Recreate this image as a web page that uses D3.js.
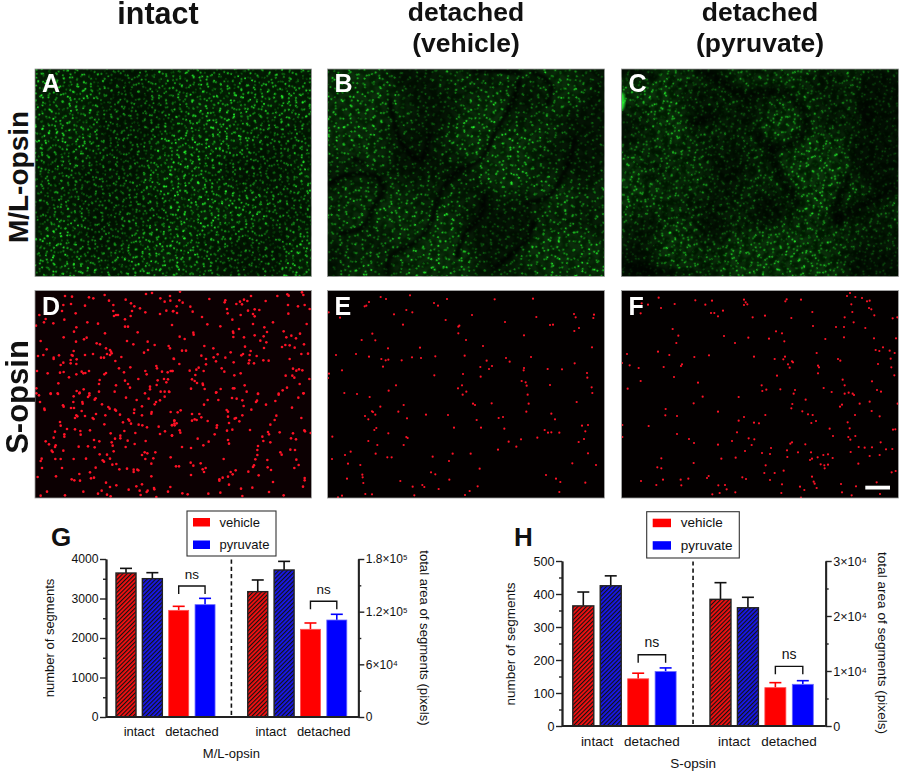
<!DOCTYPE html>
<html><head><meta charset="utf-8">
<script src="https://cdn.jsdelivr.net/npm/d3@7"></script>
<style>html,body{margin:0;background:#fff}svg{display:block}text{font-family:"Liberation Sans",Arial,sans-serif;fill:#111}</style>
</head><body><svg id="c" width="900" height="774"></svg>
<script>
// ---------- bar chart values ----------
const barCategories = ["intact vehicle","intact pyruvate","detached vehicle","detached pyruvate"];
const gSegments   = [3645,3502,2700,2844];
const gSegmentsHi = [3763,3654,2802,3004];
const gArea       = [142800,167500,99900,110500];
const gAreaHi     = [156100,177300,107100,117000];
const hSegments   = [364,425,143,165];
const hSegmentsHi = [406,455,160,176];
const hArea       = [23030,21500,6970,7580];
const hAreaHi     = [26060,23400,7880,8240];
const legendLabels = ["vehicle","pyruvate"];
const groupLabels  = ["intact","detached"];
const colTitles = [["intact"],["detached","(vehicle)"],["detached","(pyruvate)"]];
const rowTitles = ["M/L-opsin","S-opsin"];
const panelLetters = ["A","B","C","D","E","F"];

const dotsD1=[[105,33],[126,35],[177,37],[190,40],[224,30],[237,47],[287,44],[348,27],[366,24],[391,40],[404,50],[420,33],[421,47],[303,55],[313,64],[330,70],[346,82],[409,77],[430,78],[390,87],[123,57],[165,62],[100,60],[96,78],[137,85],[28,90],[47,102],[42,112],[103,104],[18,122],[70,115],[250,60],[250,78],[252,93],[258,90],[264,90],[285,103],[306,78],[302,93],[172,112],[204,116],[285,125],[294,125],[139,127],[132,140],[323,142],[225,145],[101,157],[162,163],[170,158],[138,170],[32,168],[200,175],[210,178],[291,168],[310,178],[353,170],[374,180],[416,183],[420,190],[50,193],[131,198],[125,210],[128,212],[87,211],[40,210],[24,213],[71,218],[71,222],[165,210],[189,207],[228,190],[240,195],[243,200],[245,205],[231,207],[240,210],[354,195],[342,203],[274,216],[213,218],[222,218],[256,228],[122,225],[122,235],[140,223],[139,237],[100,233],[92,240],[267,250],[301,247],[379,243],[381,250],[432,222],[21,258],[53,265],[90,263],[101,261],[117,277],[155,260],[160,265],[166,264],[177,258],[139,268],[223,268],[228,264],[282,262],[346,258],[350,268],[396,260],[413,262],[422,258],[428,258],[325,282],[383,286],[402,282],[414,283],[409,292],[85,295],[209,285],[207,297],[285,287],[294,297],[258,301],[380,300],[360,305],[360,313],[19,310],[161,313],[300,308],[140,318],[207,320],[254,320],[392,320],[404,320],[417,320],[62,325],[83,325],[148,325],[178,325],[19,325],[345,325]];
const dotsD2=[[24,20],[22,46],[32,53],[14,64],[55,65],[3,79],[15,84],[62,80],[112,42],[160,46],[158,52],[193,57],[204,50],[210,58],[216,44],[226,48],[237,33],[281,48],[316,33],[346,28],[350,32],[348,60],[378,64],[398,60],[413,72],[390,22],[394,30],[165,72],[167,85],[90,96],[181,104],[206,90],[228,77],[243,87],[248,94],[248,73],[262,75],[303,112],[349,86],[404,117],[0,120],[106,118],[243,117],[145,124],[277,127],[201,132],[183,140],[184,144],[285,141],[64,143],[65,149],[335,139],[23,155],[38,162],[184,156],[216,157],[248,151],[265,167],[275,154],[343,157],[358,152],[372,160],[384,146],[283,172],[97,183],[124,190],[219,185],[236,198],[276,189],[330,186],[340,180],[353,181],[368,188],[396,178],[30,197],[42,197],[88,212],[125,217],[137,208],[160,218],[176,202],[208,211],[213,207],[233,210],[254,213],[388,207],[408,206],[5,221],[102,222],[132,229],[185,232],[232,226],[230,235],[246,235],[274,226],[290,227],[353,222],[22,237],[102,238],[53,257],[73,254],[80,248],[149,250],[157,260],[0,258],[95,258],[206,265],[187,271],[70,270],[341,272],[361,272],[367,278],[363,251],[373,257],[381,253],[391,256],[412,282],[60,283],[68,288],[75,294],[92,296],[93,300],[383,297],[218,301],[57,311],[98,312],[146,312],[183,310],[187,310],[345,308],[133,322],[224,320],[258,326],[320,326],[332,316],[395,325]];
const dotsD3=[[27,10],[62,6],[84,6],[131,13],[149,2],[178,10],[174,15],[197,19],[194,23],[288,17],[320,24],[356,20],[390,25],[404,14],[418,0],[378,30],[374,37],[30,30],[130,30],[157,30],[158,35],[216,37],[99,40],[101,44],[123,48],[132,48],[235,45],[239,50],[255,53],[258,56],[336,43],[313,53],[312,63],[43,50],[44,54],[155,57],[139,70],[142,73],[165,72],[198,66],[226,70],[188,78],[191,81],[270,68],[336,70],[365,60],[364,65],[422,60],[433,87],[433,95],[426,99],[135,78],[90,90],[92,101],[223,97],[279,91],[295,82],[298,86],[303,95],[326,98],[337,100],[351,106],[386,104],[111,111],[135,112],[180,115],[283,117],[75,119],[151,117],[152,128],[103,127],[103,134],[71,137],[242,124],[255,140],[271,131],[271,139],[316,123],[390,126],[405,118],[426,130],[47,148],[57,157],[77,160],[75,165],[146,164],[174,163],[192,144],[208,148],[245,151],[248,161],[293,146],[314,156],[347,147],[194,166],[287,165],[65,176],[68,180],[100,176],[209,187],[231,188],[251,178],[344,181],[352,184],[376,181],[336,189],[35,200],[32,207],[76,201],[92,201],[131,201],[168,200],[240,200],[346,201],[370,199],[422,196],[218,205],[222,209],[247,218],[259,216],[364,215],[36,228],[96,228],[197,227],[268,232],[291,230],[311,233],[311,240],[322,233],[325,235],[180,241],[148,246],[78,253],[23,255],[183,259],[192,257],[125,262],[133,265],[150,266],[364,253],[228,272],[259,280],[240,285],[336,277],[319,283],[372,288],[373,292],[353,296],[350,300],[329,296],[296,293],[215,296],[204,305],[414,299],[51,299],[160,299],[231,308],[242,313],[32,311],[105,310],[332,309],[379,315],[421,285]];
const dotsD4=[[132,2],[258,6],[320,8],[394,4],[379,17],[107,24],[139,24],[180,18],[194,20],[211,25],[255,26],[252,30],[310,27],[96,38],[215,42],[282,38],[238,53],[360,47],[164,54],[168,59],[26,55],[17,61],[60,66],[82,66],[168,74],[211,70],[313,71],[88,76],[388,78],[7,85],[60,86],[68,82],[74,84],[107,87],[171,93],[188,80],[192,78],[202,88],[308,84],[0,100],[8,100],[14,94],[135,100],[134,107],[295,98],[23,115],[25,122],[165,116],[181,113],[234,114],[288,120],[323,121],[397,115],[399,118],[416,123],[128,127],[291,127],[0,131],[363,124],[271,134],[77,140],[168,144],[274,147],[357,139],[372,142],[110,149],[171,155],[295,151],[94,160],[258,162],[30,165],[57,168],[256,174],[355,173],[369,174],[325,181],[256,189],[329,188],[155,201],[250,202],[286,204],[373,203],[56,212],[64,221],[86,214],[12,223],[21,223],[246,220],[243,225],[380,219],[287,226],[297,234],[367,228],[92,232],[101,228],[96,240],[191,235],[176,240],[182,247],[229,239],[57,249],[260,250],[152,257],[142,262],[142,266],[168,254],[398,258],[398,265],[303,270],[171,278],[393,284],[241,287],[207,290],[291,300],[31,304],[47,307],[109,305],[145,302],[211,312],[335,310]];
const dotsE=[[176,36],[192,42],[264,31],[141,51],[133,62],[128,64],[20,82],[54,98],[216,88],[253,75],[271,82],[336,54],[348,62],[375,42],[518,43],[633,41],[450,90],[371,105],[412,122],[409,125],[243,119],[549,111],[643,96],[756,87],[761,97],[816,89],[814,99],[684,120],[693,119],[771,129],[757,138],[409,145],[606,151],[151,146],[119,165],[160,166],[432,165],[483,183],[198,190],[294,188],[810,187],[42,210],[102,207],[141,215],[178,222],[191,226],[199,224],[239,226],[270,217],[297,219],[340,214],[428,212],[552,219],[563,230],[627,216],[494,227],[183,245],[510,243],[475,246],[501,252],[606,249],[605,256],[758,235],[720,253],[677,252],[60,256],[21,266],[18,279],[337,271],[423,267],[476,275],[795,264],[796,278],[599,288],[611,292],[222,301],[420,301],[408,310],[614,302],[684,300],[809,307],[811,324],[200,317],[433,320],[422,329],[67,324],[105,327],[143,336],[617,329],[245,360],[453,356],[459,360],[509,355],[620,356],[764,351],[175,365],[150,379],[153,381],[229,380],[312,389],[378,390],[613,380],[688,386],[129,393],[160,389],[139,403],[255,400],[530,399],[543,396],[699,403],[464,405],[163,429],[157,435],[199,445],[396,428],[477,428],[547,431],[668,435],[678,443],[688,442],[712,443],[780,422],[798,420],[790,439],[31,455],[253,456],[257,459],[139,468],[560,470],[597,463],[646,458],[770,471],[786,462],[166,480],[245,480],[583,485],[528,494],[86,500],[69,510],[161,506],[30,522],[196,517],[209,517],[332,515],[392,506],[446,506],[381,528],[798,505],[78,536],[115,540],[751,535],[822,540],[473,551],[327,562],[340,568],[121,569],[122,577],[75,581],[235,588],[382,584],[672,570],[702,581],[715,591],[790,593],[124,594],[272,605],[301,600],[307,606],[350,612],[467,604],[443,618],[712,621],[130,627],[150,628],[60,632],[48,637],[277,631],[429,630]];
const dotsF=[[140,38],[89,55],[108,59],[147,69],[188,57],[250,46],[280,59],[300,47],[396,44],[401,52],[396,60],[406,58],[520,49],[524,43],[567,44],[714,24],[705,33],[730,36],[750,39],[765,49],[773,47],[718,58],[771,69],[778,73],[86,85],[333,77],[297,84],[307,84],[318,94],[459,92],[422,97],[538,99],[601,81],[721,81],[698,97],[787,91],[856,97],[842,100],[725,112],[603,123],[672,126],[696,126],[182,132],[199,152],[336,153],[409,158],[471,161],[492,139],[510,145],[760,129],[640,162],[696,157],[786,160],[852,160],[193,174],[369,174],[517,169],[813,187],[791,195],[802,198],[833,197],[848,204],[45,207],[138,200],[172,210],[247,216],[291,211],[426,215],[614,204],[519,215],[514,223],[488,222],[678,222],[685,227],[540,229],[543,232],[528,238],[533,248],[30,234],[53,241],[80,249],[155,246],[207,243],[210,238],[618,242],[621,247],[618,265],[836,221],[798,237],[838,247],[847,271],[495,272],[186,276],[86,288],[258,293],[692,284],[780,289],[698,301],[47,311],[449,301],[451,318],[463,314],[505,313],[549,315],[545,326],[635,309],[659,321],[795,315],[807,320],[698,326],[710,323],[722,326],[726,330],[272,335],[380,336],[581,344],[245,355],[541,357],[538,370],[690,359],[684,365],[743,356],[773,350],[857,356],[161,372],[160,391],[318,380],[571,379],[588,388],[602,390],[460,390],[779,378],[729,390],[803,394],[195,393],[396,396],[380,407],[426,413],[441,415],[598,414],[612,408],[707,412],[110,423],[31,420],[653,431],[713,430],[850,433],[843,434],[375,442],[195,447],[31,456],[231,462],[246,474],[360,468],[410,460],[427,463],[663,453],[709,456],[715,464],[730,453],[806,472],[540,472],[535,476],[318,479],[419,480],[580,478],[477,489],[525,496],[399,498],[740,486],[758,488],[780,487],[822,493],[841,492],[450,504],[474,507],[597,502],[716,501],[558,502],[803,510],[773,513],[526,516],[617,517],[634,510],[648,508],[662,519],[148,520],[328,521],[371,518],[600,521],[594,525],[626,538],[637,541],[648,539],[638,550],[245,534],[739,536],[461,541],[136,547],[148,550],[457,564],[488,564],[515,557],[851,558],[839,562],[285,579],[290,573],[391,577],[402,582],[474,585],[600,575],[605,590],[608,596],[229,581],[206,584],[153,584],[87,588],[133,600],[208,601],[319,601],[339,600],[344,613],[510,598],[564,605],[614,609],[577,615],[687,597],[732,604],[794,592],[323,624],[370,622],[301,628],[508,624],[690,622],[719,631],[804,627],[567,638]];

const foldsB=[
 [[200,640],[215,585],[260,560],[300,535],[335,480],[360,400],[410,335],[480,300],[530,210],[580,120],[600,60]],
 [[410,590],[430,530],[480,470],[495,400]],
 [[25,375],[80,345],[170,350],[190,390],[160,440],[130,500],[60,520]],
 [[100,295],[130,310]],
 [[520,625],[590,570],[625,530],[640,490]],
 [[620,430],[690,405],[745,310],[765,235]],
 [[680,130],[695,80],[640,35]],
 [[210,120],[240,240],[300,300],[330,220]],
 [[460,35],[520,30],[600,40]]
];
const foldsC=[
 [[270,30],[330,60],[400,105],[520,95],[560,130],[590,180],[560,240],[490,262],[440,220]],
 [[480,260],[500,320],[540,390],[560,430]],
 [[760,140],[770,190]],
 [[720,345],[675,450],[680,490]],
 [[680,480],[770,430],[860,385]],
 [[250,190],[315,165]],
 [[35,30],[130,50]],
 [[190,640],[60,625]]
];

// ---------- page set-up ----------
const svg = d3.select("#c");
const defs = svg.append("defs");
const panels = [
 {x:35,y:69,w:276.5,h:207.5,seed:4,bg:"#062006",s:[7.3,7.9,8.6],bright:1,patch:.35,dim:.75},
 {x:327.5,y:69,w:277,h:207.5,seed:11,bg:"#0a2c0a",s:[8.7,9.5,10.3],bright:1,patch:.55,dim:.7,folds:foldsB,foldW:5,blur:1.6,ox:320,oy:60},
 {x:621.5,y:69,w:277,h:207.5,seed:23,bg:"#0a300a",s:[7.6,8.3,9.1],bright:.8,patch:.65,dim:.85,folds:foldsC,foldW:9,blur:3.4,ox:610,oy:60},
 {x:35,y:290.5,w:276.5,h:207.5,bg:"#0c0002"},
 {x:327.5,y:290.5,w:277,h:207.5,bg:"#030000"},
 {x:621.5,y:290.5,w:277,h:207.5,bg:"#030000"}
];
// The green mosaic is too dense to transcribe cell by cell: it is an illustrative texture,
// three overlaid dot lattices whose brightness is varied by an SVG noise filter, not measured positions.
panels.slice(0,3).forEach((p,i)=>{
  p.s.forEach((s,k)=>{
    const pat=defs.append("pattern").attr("id",`lat${i}${k}`).attr("patternUnits","userSpaceOnUse")
      .attr("width",s).attr("height",s*1.732).attr("patternTransform",`rotate(${[17,-29,53][k]+i*11})`);
    [[s/4,s*.433],[s*.75,s*1.299]].forEach(c=>pat.append("circle").attr("cx",c[0]).attr("cy",c[1]).attr("r",1).attr("fill","#22ff2a"));
  });
  const d=defs.append("filter").attr("id","dim"+i).attr("x",0).attr("y",0).attr("width",1).attr("height",1).attr("color-interpolation-filters","sRGB");
  d.append("feTurbulence").attr("type","fractalNoise").attr("baseFrequency",.16).attr("numOctaves",1).attr("seed",p.seed+5);
  d.append("feColorMatrix").attr("type","matrix").attr("values","0 0 0 0 0  0 0 0 0 .1  0 0 0 0 0  0 4 0 0 -1.6");
  const g=defs.append("filter").attr("id","patch"+i).attr("x",0).attr("y",0).attr("width",1).attr("height",1).attr("color-interpolation-filters","sRGB");
  g.append("feTurbulence").attr("type","fractalNoise").attr("baseFrequency",.013).attr("numOctaves",2).attr("seed",p.seed+2);
  g.append("feColorMatrix").attr("type","matrix").attr("values","0 0 0 0 0  0 0 0 0 0  0 0 0 0 0  0 -4 0 0 2.4");
  if(p.blur) defs.append("filter").attr("id","soft"+i).append("feGaussianBlur").attr("stdDeviation",p.blur);
});
defs.append("filter").attr("id","glow").append("feGaussianBlur").attr("stdDeviation",1.1);
panels.forEach((p,i)=>defs.append("clipPath").attr("id","clip"+i).append("rect").attr("x",p.x).attr("y",p.y).attr("width",p.w).attr("height",p.h));

const foldLine=d3.line().curve(d3.curveCatmullRom);
panels.forEach((p,i)=>{
  const g=svg.append("g").attr("clip-path",`url(#clip${i})`);
  const fill=()=>g.append("rect").attr("x",p.x).attr("y",p.y).attr("width",p.w).attr("height",p.h);
  fill().attr("fill",p.bg);
  if(i<3){
    p.s.forEach((s,k)=>fill().attr("fill",`url(#lat${i}${k})`).attr("opacity",p.bright*[1,.9,.8][k]));
    fill().attr("filter",`url(#dim${i})`).attr("opacity",p.dim);
    fill().attr("filter",`url(#patch${i})`).attr("opacity",p.patch);
    if(p.folds){
      const fx=d3.scaleLinear([0,3],[p.ox,p.ox+1]), fy=d3.scaleLinear([0,3],[p.oy,p.oy+1]);
      g.append("g").attr("filter",`url(#soft${i})`).selectAll("path").data(p.folds).join("path")
       .attr("d",d=>foldLine(d.map(q=>[fx(q[0]),fy(q[1])])))
       .attr("fill","none").attr("stroke","#000").attr("stroke-width",p.foldW).attr("stroke-linecap","round").attr("opacity",.72);
    }
    if(i===2) g.append("ellipse").attr("cx",622).attr("cy",101).attr("rx",3).attr("ry",9).attr("fill","#2dff3a").attr("opacity",.85).attr("filter","url(#glow)");
  }
});
// S-opsin dots
const zoomX=d3.scaleLinear([0,3],[0,1]), zoomY=d3.scaleLinear([0,3],[0,1]);
const dotSets=[
 {panel:3,origin:[30,285],dots:dotsD1},{panel:3,origin:[172,285],dots:dotsD2},
 {panel:3,origin:[30,392],dots:dotsD3},{panel:3,origin:[172,392],dots:dotsD4},
 {panel:4,origin:[322,285],dots:dotsE},{panel:5,origin:[612,285],dots:dotsF}];
dotSets.forEach(s=>{
  svg.append("g").attr("clip-path",`url(#clip${s.panel})`).selectAll("circle").data(s.dots).join("circle")
    .attr("cx",d=>s.origin[0]+zoomX(d[0])).attr("cy",d=>s.origin[1]+zoomY(d[1]))
    .attr("r",s.panel===3?1.3:1.1).attr("fill","#ff1226");
});
panels.forEach(p=>svg.append("rect").attr("x",p.x).attr("y",p.y).attr("width",p.w).attr("height",p.h)
  .attr("fill","none").attr("stroke","#9a9a9a").attr("stroke-width",.8));
panels.forEach((p,i)=>svg.append("text").attr("x",p.x+7).attr("y",p.y+(i<3?23:24)).text(panelLetters[i])
  .attr("font-size",25).attr("font-weight","bold").style("fill","#fff"));
svg.append("rect").attr("x",865.3).attr("y",485.7).attr("width",24.7).attr("height",3.8).attr("fill","#fff");

// titles
const colX=[158,466,760];
colTitles.forEach((lines,i)=>lines.forEach((t,j)=>svg.append("text").attr("x",colX[i]).attr("y",j?52:(i?21:24))
  .attr("text-anchor","middle").attr("font-weight","bold").attr("font-size",i?26.5:30.5).text(t)));
[177,397].forEach((c,i)=>svg.append("text").attr("transform",`translate(28,${c}) rotate(-90)`)
  .attr("text-anchor","middle").attr("font-weight","bold").attr("font-size",i?31:28).text(rowTitles[i]));

// ---------- hatching ----------
[["hr","#f81010"],["hb","#1818ee"]].forEach(([id,c])=>{
  const p=defs.append("pattern").attr("id",id).attr("patternUnits","userSpaceOnUse").attr("width",3).attr("height",3)
    .attr("patternTransform","rotate(-45)");
  p.append("rect").attr("width",3).attr("height",3).attr("fill",c);
  p.append("rect").attr("width",3).attr("height",1.15).attr("fill","#111");
});

// ---------- bar panels ----------
const slots=[0,1,2,3,5,6,7,8];
function barChart(o){
  const g=svg.append("g");
  const x=d3.scaleLinear([0,8],o.xRange);
  const yL=d3.scaleLinear([0,o.maxL],[o.y0,o.yTop]), yR=d3.scaleLinear([0,o.maxR],[o.y0,o.yTop]);
  const bars=[...o.segs.map((v,i)=>({v,hi:o.segsHi[i],y:yL,i})),...o.area.map((v,i)=>({v,hi:o.areaHi[i],y:yR,i}))]
     .map((d,k)=>({...d,s:slots[k],red:d.i%2===0,hatched:d.i<2}));
  const bw=o.barW, col=d=>d.hatched?"#111":(d.red?"#f00":"#00f");
  g.selectAll("line.e").data(bars).join("line").attr("x1",d=>x(d.s)).attr("x2",d=>x(d.s)).attr("y1",d=>d.y(d.v)).attr("y2",d=>d.y(d.hi))
    .attr("stroke",col).attr("stroke-width",1.6);
  g.selectAll("line.c").data(bars).join("line").attr("x1",d=>x(d.s)-6).attr("x2",d=>x(d.s)+6).attr("y1",d=>d.y(d.hi)).attr("y2",d=>d.y(d.hi))
    .attr("stroke",col).attr("stroke-width",1.6);
  g.selectAll("rect.b").data(bars).join("rect")
    .attr("x",d=>x(d.s)-bw/2).attr("width",bw).attr("y",d=>d.y(d.v)).attr("height",d=>o.y0-d.y(d.v))
    .attr("fill",d=>d.hatched?(d.red?"url(#hr)":"url(#hb)"):(d.red?"#ff0000":"#0000ff"))
    .attr("stroke",d=>d.hatched?"#222":(d.red?"#ff5050":"#6a6aff")).attr("stroke-width",d=>d.hatched?1.4:.8);
  // axes
  const axisStyle=a=>{a.select(".domain").attr("stroke","#222").attr("stroke-width",1.8);
    a.selectAll("line").attr("stroke","#222").attr("stroke-width",1.4);
    a.selectAll("text").style("font-family",'"Liberation Sans",Arial,sans-serif').style("fill","#111");};
  g.append("g").attr("transform",`translate(${o.xL},0)`).call(d3.axisLeft(yL).tickValues(o.minorL).tickSize(3).tickFormat("").tickSizeOuter(0)).call(axisStyle);
  g.append("g").attr("transform",`translate(${o.xL},0)`).call(d3.axisLeft(yL).tickValues(o.majorL).tickSize(6).tickSizeOuter(0).tickPadding(1.5).tickFormat(d3.format("d"))).call(axisStyle)
    .selectAll("text").style("font-size",o.tickFont+"px");
  g.append("g").attr("transform",`translate(${o.xR},0)`).call(d3.axisRight(yR).tickValues(o.minorR).tickSize(3).tickFormat("").tickSizeOuter(0)).call(axisStyle);
  g.append("g").attr("transform",`translate(${o.xR},0)`).call(d3.axisRight(yR).tickValues(o.majorR).tickSize(6).tickSizeOuter(0).tickPadding(1.5).tickFormat(o.fmtR)).call(axisStyle)
    .selectAll("text").style("font-size",o.tickFontR+"px");
  g.append("line").attr("x1",o.xL).attr("x2",o.xR).attr("y1",o.y0).attr("y2",o.y0).attr("stroke","#222").attr("stroke-width",1.8);
  g.append("line").attr("x1",x(4)).attr("x2",x(4)).attr("y1",o.y0-2).attr("y2",o.yTop-1).attr("stroke","#111").attr("stroke-width",1.6).attr("stroke-dasharray","4.2 3");
  // category labels
  [[.5,0],[2.5,1],[5.5,0],[7.5,1]].forEach(([s,i])=>g.append("text").attr("x",x(s)).attr("y",o.labY).attr("text-anchor","middle").attr("font-size",o.font).text(groupLabels[i]));
  g.append("text").attr("x",x(4)).attr("y",o.titleY).attr("text-anchor","middle").attr("font-size",o.font).text(o.title);
  g.append("text").attr("transform",`translate(${o.leftTitleX},${o.leftTitleY}) rotate(-90)`).attr("text-anchor","middle").attr("font-size",o.font).text("number of segments");
  g.append("text").attr("transform",`translate(${o.rightTitleX},${o.rightTitleY}) rotate(90)`).attr("text-anchor","middle").attr("font-size",o.font+.1).text("total area of segments (pixels)");
  // brackets
  [[2,3,yL(o.brL)],[7,8,yR(o.brR)]].forEach(([a,b,yy])=>{
    g.append("path").attr("d",d3.line()([[x(a),yy+8],[x(a),yy],[x(b),yy],[x(b),yy+8]])).attr("fill","none").attr("stroke","#111").attr("stroke-width",1.4);
    g.append("text").attr("x",(x(a)+x(b))/2).attr("y",yy-7.5).attr("text-anchor","middle").attr("font-size",o.font+.5).text("ns");
  });
  // legend
  g.append("rect").attr("x",o.leg[0]).attr("y",o.leg[1]).attr("width",o.leg[2]).attr("height",o.leg[3]).attr("fill","#fff").attr("stroke","#333").attr("stroke-width",1.1);
  legendLabels.forEach((t,i)=>{
    const yy=o.leg[1]+7+i*22.5;
    g.append("rect").attr("x",o.leg[0]+6).attr("y",yy).attr("width",o.swW).attr("height",8.5).attr("fill",i?"#0000ff":"#ff0000");
    g.append("text").attr("x",o.leg[4]).attr("y",yy+8.7).attr("font-size",o.font).text(t);
  });
  g.append("text").attr("x",o.letter[0]).attr("y",o.letter[1]).attr("font-size",26).attr("font-weight","bold").text(o.letter[2]);
}
const sci=()=>{const s={4:"⁴",5:"⁵"};return v=>{if(!v)return "0";const e=Math.floor(Math.log10(v));const c=+(v/10**e).toFixed(1);return `${c}×10${s[e]}`;};};
barChart({segs:gSegments,segsHi:gSegmentsHi,area:gArea,areaHi:gAreaHi,maxL:4000,maxR:180000,y0:717,yTop:559,
  xRange:[126,336.8],xL:106,xR:358.3,barW:20,font:13,tickFont:12.2,tickFontR:12,
  majorL:[0,1000,2000,3000,4000],minorL:[500,1500,2500,3500],majorR:[0,60000,120000,180000],minorR:[30000,90000,150000],fmtR:sci(),
  labY:736,titleY:757.5,title:"M/L-opsin",leftTitleX:54,leftTitleY:638,rightTitleX:420,rightTitleY:638,
  brL:3316,brR:131800,leg:[187,511,89,45,219.5],swW:17,letter:[51,546,"G"]});
barChart({segs:hSegments,segsHi:hSegmentsHi,area:hArea,areaHi:hAreaHi,maxL:500,maxR:30000,y0:726,yTop:561,
  xRange:[583.3,802.8],xL:562,xR:825.7,barW:21,font:13.5,tickFont:12.6,tickFontR:12.6,
  majorL:[0,100,200,300,400,500],minorL:[50,150,250,350,450],majorR:[0,10000,20000,30000],minorR:[5000,15000,25000],fmtR:sci(),
  labY:745.7,titleY:767.5,title:"S-opsin",leftTitleX:515,leftTitleY:644,rightTitleX:878,rightTitleY:643,
  brL:216,brR:10850,leg:[646.7,511.7,92.6,46.3,680.7],swW:18.3,letter:[514,546,"H"]});
</script></body></html>
